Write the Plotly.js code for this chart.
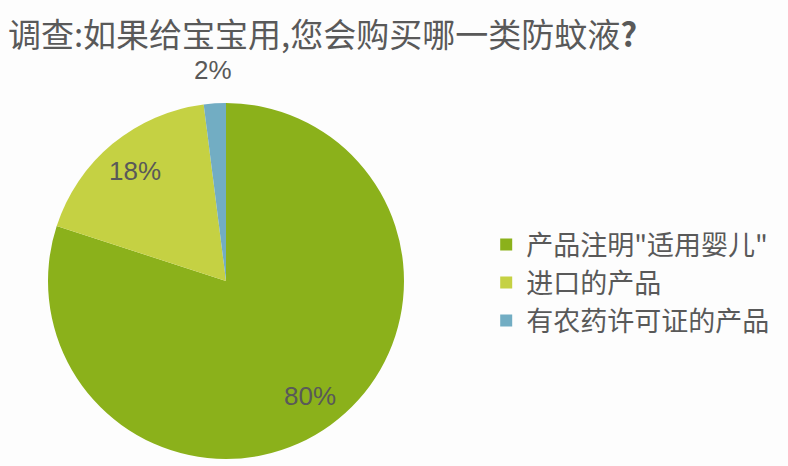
<!DOCTYPE html>
<html><head><meta charset="utf-8">
<script src="https://cdn.plot.ly/plotly-3.0.1.min.js"></script>
<style>html,body{margin:0;padding:0;background:#fdfdfd;}</style>
</head><body>
<div id="chart" style="width:788px;height:466px;"></div>
<script>
const categories = ['产品注明"适用婴儿"', '进口的产品', '有农药许可证的产品'];
const values = [80, 18, 2];
const colors = ['#8bb11b', '#c5d143', '#72adc3'];
const labelPlacement = ['inside', 'inside', 'outside'];
const titleText = '调查:如果给宝宝用,您会购买哪一类防蚊液<b>?</b>';

const W = 788, H = 466, cx = 226, cy = 281, R = 178;
const total = values.reduce((a, b) => a + b, 0);
let cum = 0;
const annotations = values.map((v, i) => {
  const mid = (cum + v / 2) / total * 2 * Math.PI; // clockwise from top
  cum += v;
  const rr = labelPlacement[i] === 'inside' ? 0.8 * R : 1.185 * R;
  const px = cx + rr * Math.sin(mid);
  const py = cy - rr * Math.cos(mid);
  return {
    xref: 'paper', yref: 'paper', x: px / W, y: 1 - py / H,
    xanchor: 'center', yanchor: 'middle', showarrow: false,
    text: v + '%',
    font: {family: 'Liberation Sans, Arial, sans-serif', size: 26, color: '#595959'}
  };
});

Plotly.newPlot('chart', [{
  type: 'pie',
  labels: categories,
  values: values,
  sort: false,
  direction: 'clockwise',
  rotation: 0,
  marker: {colors: colors, line: {width: 0}},
  textinfo: 'none',
  hoverinfo: 'none',
  domain: {x: [(cx - R) / W, (cx + R) / W], y: [(H - cy - R) / H, (H - cy + R) / H]}
}], {
  width: W, height: H,
  margin: {l: 0, r: 0, t: 0, b: 0},
  paper_bgcolor: '#fdfdfd',
  title: {text: titleText, x: 0.01, xanchor: 'left', y: 0.924, yanchor: 'middle',
    font: {family: 'Noto Sans CJK SC, sans-serif', size: 33, color: '#595959'}},
  annotations: annotations,
  showlegend: true,
  legend: {x: 0.617, xanchor: 'left', y: 0.393, yanchor: 'middle',
    font: {family: 'Noto Sans CJK SC, sans-serif', size: 27, color: '#595959'},
    itemwidth: 30, bgcolor: 'rgba(0,0,0,0)'}
}, {displayModeBar: false, staticPlot: true});
</script>
</body></html>
